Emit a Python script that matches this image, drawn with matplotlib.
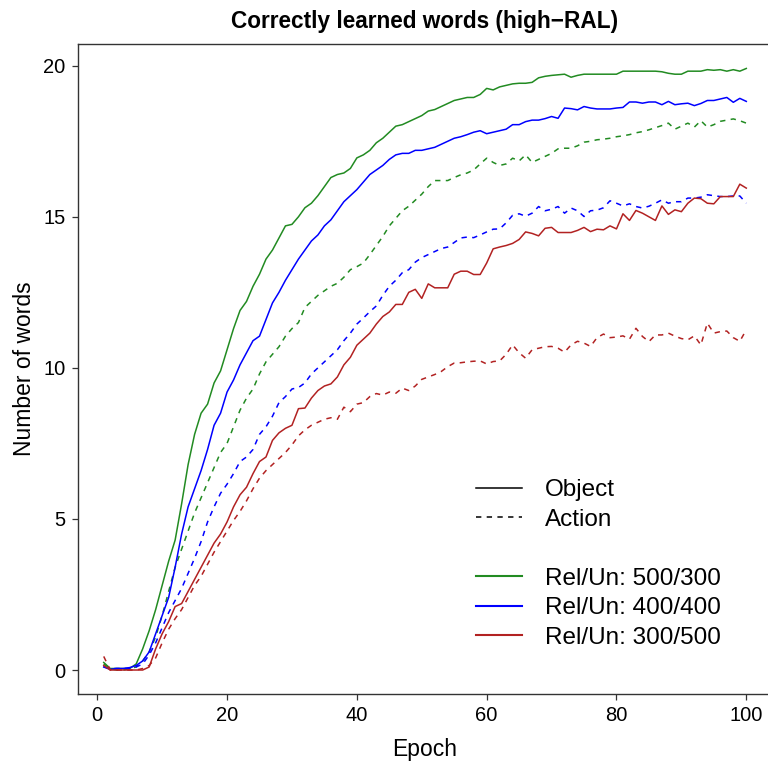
import matplotlib
matplotlib.use("Agg")
import matplotlib.pyplot as plt
from matplotlib.lines import Line2D

plt.rcParams["font.family"] = ["Liberation Sans", "DejaVu Sans"]

epochs = list(range(1, 101))

# Object words (solid lines)
obj_500_300 = [
    0.25, 0.05, 0.05, 0.05, 0.05, 0.2, 0.7, 1.3, 2.0, 2.8,
    3.6, 4.3, 5.5, 6.8, 7.8, 8.5, 8.8, 9.5, 9.9, 10.6,
    11.3, 11.9, 12.2, 12.7, 13.1, 13.6, 13.9, 14.3, 14.7, 14.75,
    15.0, 15.3, 15.45, 15.7, 16.0, 16.3, 16.4, 16.45, 16.6, 16.95,
    17.05, 17.2, 17.45, 17.6, 17.8, 18.0, 18.05, 18.15, 18.25, 18.35,
    18.5, 18.55, 18.65, 18.75, 18.85, 18.9, 18.95, 18.95, 19.05, 19.25,
    19.2, 19.3, 19.35, 19.4, 19.42, 19.42, 19.45, 19.6, 19.65, 19.68,
    19.7, 19.72, 19.62, 19.68, 19.72, 19.72, 19.72, 19.72, 19.72, 19.72,
    19.82, 19.82, 19.82, 19.82, 19.82, 19.82, 19.8, 19.75, 19.72, 19.72,
    19.82, 19.82, 19.82, 19.87, 19.85, 19.87, 19.82, 19.87, 19.82, 19.91,
]
obj_400_400 = [
    0.1, 0.02, 0.05, 0.05, 0.08, 0.15, 0.3, 0.6, 1.2, 1.8,
    2.4, 3.4, 4.5, 5.4, 6.0, 6.6, 7.3, 8.1, 8.5, 9.2,
    9.6, 10.1, 10.5, 10.9, 11.05, 11.6, 12.15, 12.5, 12.9, 13.25,
    13.6, 13.9, 14.2, 14.4, 14.7, 14.9, 15.2, 15.5, 15.7, 15.9,
    16.15, 16.4, 16.55, 16.7, 16.9, 17.05, 17.1, 17.1, 17.2, 17.2,
    17.25, 17.3, 17.4, 17.5, 17.6, 17.65, 17.72, 17.8, 17.85, 17.75,
    17.8, 17.85, 17.9, 18.05, 18.05, 18.15, 18.2, 18.2, 18.25, 18.32,
    18.26, 18.6, 18.58, 18.54, 18.65, 18.6, 18.57, 18.57, 18.57, 18.6,
    18.62, 18.8, 18.8, 18.76, 18.8, 18.8, 18.71, 18.82, 18.71, 18.74,
    18.76, 18.68, 18.75, 18.85, 18.85, 18.9, 18.95, 18.79, 18.92, 18.82,
]
obj_300_500 = [
    0.15, 0.0, 0.0, 0.0, 0.0, 0.0, 0.0, 0.1, 0.7, 1.2,
    1.6, 2.1, 2.2, 2.6, 3.0, 3.4, 3.8, 4.2, 4.5, 4.9,
    5.4, 5.8, 6.05, 6.5, 6.9, 7.05, 7.6, 7.85, 8.0, 8.1,
    8.65, 8.67, 9.0, 9.25, 9.4, 9.47, 9.7, 10.1, 10.35, 10.75,
    10.95, 11.15, 11.45, 11.7, 11.85, 12.1, 12.1, 12.5, 12.6, 12.3,
    12.78, 12.65, 12.65, 12.65, 13.1, 13.2, 13.2, 13.09, 13.09, 13.47,
    13.94, 14.0, 14.05, 14.12, 14.25, 14.5, 14.45, 14.37, 14.62, 14.65,
    14.48, 14.48, 14.48, 14.55, 14.65, 14.51, 14.59, 14.57, 14.7, 14.6,
    15.1, 14.88, 15.21, 15.12, 15.0, 14.88, 15.36, 15.08, 15.23, 15.17,
    15.45, 15.62, 15.6, 15.45, 15.43, 15.67, 15.67, 15.67, 16.08, 15.95,
]

# Action words (dashed lines)
act_500_300 = [
    0.2, 0.05, 0.0, 0.0, 0.05, 0.1, 0.3, 0.6, 1.1, 1.8,
    2.6, 3.4, 4.0, 4.6, 5.2, 5.7, 6.2, 6.7, 7.2, 7.5,
    8.05, 8.6, 9.0, 9.3, 9.8, 10.2, 10.45, 10.7, 11.05, 11.3,
    11.5, 12.0, 12.2, 12.4, 12.55, 12.7, 12.8, 13.0, 13.25, 13.35,
    13.47, 13.75, 14.05, 14.35, 14.7, 14.95, 15.2, 15.35, 15.55, 15.75,
    16.0, 16.2, 16.2, 16.2, 16.3, 16.39, 16.45, 16.55, 16.75, 16.94,
    16.8, 16.7, 16.75, 16.94, 16.85, 17.05, 16.8, 16.9, 17.0, 17.1,
    17.25, 17.27, 17.27, 17.35, 17.47, 17.5, 17.55, 17.57, 17.6, 17.65,
    17.68, 17.72, 17.78, 17.82, 17.88, 17.95, 18.02, 18.1, 17.9, 18.0,
    18.1, 17.97, 18.18, 17.97, 18.05, 18.16, 18.2, 18.24, 18.18, 18.1,
]
act_400_400 = [
    0.1, 0.05, 0.05, 0.05, 0.05, 0.1, 0.2, 0.5, 0.9, 1.4,
    1.9, 2.3, 2.7, 3.2, 3.7, 4.25, 4.9, 5.4, 5.85, 6.15,
    6.5, 6.9, 7.05, 7.3, 7.8, 8.05, 8.4, 8.85, 9.05, 9.3,
    9.35, 9.5, 9.8, 10.0, 10.2, 10.4, 10.6, 10.9, 11.15, 11.45,
    11.65, 11.86, 12.05, 12.4, 12.7, 12.9, 13.15, 13.25, 13.5, 13.65,
    13.75, 13.85, 13.95, 14.0, 14.15, 14.3, 14.33, 14.31, 14.4, 14.5,
    14.59, 14.6, 14.8, 15.05, 15.1, 15.02, 15.12, 15.34, 15.2, 15.25,
    15.34, 15.12, 15.29, 15.2, 15.01, 15.2, 15.22, 15.3, 15.53, 15.45,
    15.36, 15.43, 15.34, 15.29, 15.35, 15.45, 15.56, 15.45, 15.5, 15.5,
    15.62, 15.62, 15.65, 15.73, 15.7, 15.67, 15.67, 15.69, 15.69, 15.45,
]
act_300_500 = [
    0.45, 0.0, 0.0, 0.0, 0.0, 0.0, 0.05, 0.15, 0.4, 0.9,
    1.35, 1.7, 2.0, 2.4, 2.8, 3.1, 3.5, 3.9, 4.25, 4.6,
    4.95, 5.25, 5.6, 6.0, 6.35, 6.6, 6.8, 7.0, 7.2, 7.45,
    7.75, 7.95, 8.1, 8.2, 8.3, 8.35, 8.3, 8.7, 8.55, 8.8,
    8.85, 9.05, 9.15, 9.1, 9.2, 9.16, 9.33, 9.25, 9.4, 9.62,
    9.7, 9.78, 9.88, 10.04, 10.16, 10.17, 10.2, 10.22, 10.23, 10.13,
    10.21, 10.23, 10.45, 10.76, 10.5, 10.32, 10.6, 10.65, 10.7, 10.71,
    10.65, 10.52, 10.76, 10.88, 10.82, 10.71, 11.0, 11.12, 11.0, 11.02,
    11.06, 10.95, 11.31, 11.04, 10.87, 11.09, 11.09, 11.15, 11.05, 10.97,
    10.93, 11.06, 10.76, 11.48, 11.15, 11.2, 11.22, 11.0, 10.88, 11.26,
]

conditions = ["Rel/Un: 500/300", "Rel/Un: 400/400", "Rel/Un: 300/500"]
colors = ["#228B22", "#0000FF", "#B22222"]
object_series = [obj_500_300, obj_400_400, obj_300_500]
action_series = [act_500_300, act_400_400, act_300_500]

fig = plt.figure(figsize=(7.68, 7.65), dpi=100)
ax = fig.add_axes([0.1016, 0.0932, 0.9036, 0.8497])

for col, obj, act in zip(colors, object_series, action_series):
    ax.plot(epochs, obj, color=col, lw=1.1)
    ax.plot(epochs, act, color=col, lw=1.1, linestyle=(0, (3.5, 3.5)))

ax.set_xlim(-2.96, 103.96)
ax.set_ylim(-0.784, 20.73)
ax.set_xticks([0, 20, 40, 60, 80, 100])
ax.set_yticks([0, 5, 10, 15, 20])
ax.spines["right"].set_visible(False)
for s in ["left", "top", "bottom"]:
    ax.spines[s].set_linewidth(1.0)
    ax.spines[s].set_color("#333333")
ax.tick_params(direction="out", length=4.5, width=0.9, labelsize=14.5,
               colors="#333333", labelcolor="black", pad=4.5)

ax.set_xlabel("Epoch", fontsize=16.5, labelpad=9)
ax.set_ylabel("Number of words", fontsize=16.5, labelpad=5)
ax.set_title("Correctly learned words (high\u2212RAL)", fontsize=16.3,
             fontweight="bold", pad=11)

handles = [
    Line2D([], [], color="black", lw=1.1),
    Line2D([], [], color="black", lw=1.1, linestyle=(0, (3.5, 3.5))),
    Line2D([], [], color="none"),
] + [Line2D([], [], color=c, lw=1.5) for c in colors]
labels = ["Object", "Action", " "] + conditions
ax.legend(handles, labels, loc="upper left", frameon=False,
          bbox_to_anchor=(476 / 768, 1 - 479 / 765),
          bbox_transform=fig.transFigure, borderpad=0, borderaxespad=0,
          fontsize=17.5, handlelength=1.9, handletextpad=0.95,
          labelspacing=0.31)

fig.savefig("out.png", dpi=100)
